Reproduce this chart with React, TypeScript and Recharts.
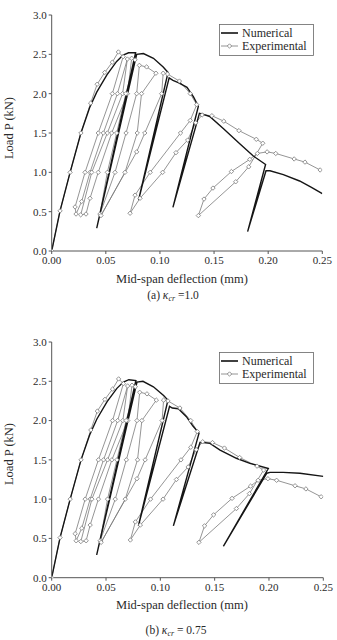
import React from 'react';
import { LineChart, Line, XAxis, YAxis, Legend } from 'recharts';

type Pair = [number, number];

// ---- data (deflection mm, load kN) ----
const xTicks = [0, 0.05, 0.1, 0.15, 0.2, 0.25];
const yTicks = [0, 0.5, 1, 1.5, 2, 2.5, 3];

const experimental: Pair[] = [
  [0, 0], [0.0077, 0.51], [0.017, 1.0], [0.027, 1.5], [0.036, 1.88], [0.042, 2.12], [0.049, 2.27], [0.056, 2.4], [0.0616, 2.53],
  [0.066, 2.47],
  [0.056, 2.0], [0.043, 1.5], [0.0308, 1.0], [0.0216, 0.56], [0.0225, 0.47],
  [0.0277, 0.63], [0.0354, 1.0], [0.0477, 1.5], [0.0607, 2.0], [0.0699, 2.44],
  [0.0655, 2.0], [0.0514, 1.5], [0.037, 1.0], [0.0268, 0.46],
  [0.0317, 0.47], [0.0354, 0.67], [0.043, 1.0], [0.0554, 1.5], [0.07, 2.0], [0.0739, 2.45],
  [0.077, 2.43],
  [0.0685, 2.0], [0.06, 1.5], [0.0514, 1.0], [0.0446, 0.47],
  [0.0585, 1.0], [0.0687, 1.5], [0.0785, 2.0], [0.081, 2.36],
  [0.0877, 2.34], [0.0963, 2.26],
  [0.083, 2.0], [0.079, 1.5], [0.0677, 1.0], [0.0455, 0.45],
  [0.0785, 1.26], [0.086, 1.5], [0.1016, 2.0], [0.103, 2.26], [0.107, 2.25],
  [0.118, 2.16], [0.128, 2.0], [0.134, 1.86],
  [0.128, 1.66], [0.119, 1.5], [0.091, 1.0], [0.077, 0.71], [0.0724, 0.48],
  [0.0816, 0.67], [0.1025, 1.0], [0.1148, 1.25], [0.1256, 1.41], [0.133, 1.63], [0.139, 1.73],
  [0.148, 1.72], [0.159, 1.65], [0.173, 1.53], [0.189, 1.42], [0.195, 1.37],
  [0.182, 1.07], [0.17, 0.88], [0.1355, 0.45],
  [0.1407, 0.66], [0.149, 0.8], [0.166, 1.01], [0.183, 1.165], [0.19, 1.24], [0.199, 1.26],
  [0.207, 1.24], [0.224, 1.17], [0.234, 1.13], [0.248, 1.03],
];

const numericalA: Pair[] = [
  [0, 0], [0.0077, 0.51], [0.017, 1.0], [0.027, 1.5], [0.035, 1.82], [0.0416, 2.02], [0.051, 2.24], [0.06, 2.41], [0.066, 2.49], [0.071, 2.52], [0.0775, 2.52],
  [0.0416, 0.29], [0.0785, 2.5],
  [0.0847, 2.51], [0.094, 2.45], [0.103, 2.34], [0.1075, 2.27],
  [0.0803, 0.65], [0.1085, 2.2],
  [0.112, 2.17], [0.117, 2.14], [0.125, 2.08], [0.131, 1.96], [0.1355, 1.84],
  [0.112, 0.555], [0.1365, 1.75],
  [0.1395, 1.74], [0.146, 1.71], [0.159, 1.55], [0.174, 1.36], [0.186, 1.21], [0.1976, 1.1],
  [0.181, 0.246], [0.198, 1.02],
  [0.2017, 1.02], [0.214, 0.97], [0.229, 0.89], [0.24, 0.81], [0.25, 0.73],
];

const numericalB: Pair[] = [
  [0, 0], [0.0077, 0.51], [0.017, 1.0], [0.027, 1.5], [0.035, 1.82], [0.0416, 2.02], [0.051, 2.24], [0.06, 2.41], [0.066, 2.49], [0.071, 2.52], [0.0775, 2.51],
  [0.0414, 0.29], [0.0785, 2.49],
  [0.084, 2.5], [0.0936, 2.43], [0.103, 2.32], [0.107, 2.26],
  [0.0798, 0.66], [0.1085, 2.18],
  [0.111, 2.16], [0.1166, 2.15], [0.124, 2.05], [0.13, 1.93], [0.1356, 1.84],
  [0.112, 0.66], [0.1365, 1.72],
  [0.1396, 1.72], [0.1457, 1.71], [0.155, 1.625], [0.17, 1.52], [0.1825, 1.455], [0.1994, 1.39],
  [0.158, 0.4], [0.198, 1.33],
  [0.201, 1.34], [0.213, 1.34], [0.2285, 1.33], [0.25, 1.29],
];

const toRows = (a: Pair[]) => a.map(([x, y]) => ({ x, y }));

const FONT = '"Liberation Serif", "DejaVu Serif", serif';
const AXIS = '#555';
const TXT = '#2a2a2a';
const EXP = '#7a7a7a';

const Diamond = (props: any) => {
  const { cx, cy, index } = props;
  if (cx == null || cy == null) return <g key={`e${index}`} />;
  const r = 2.2;
  return (
    <path
      key={`d${index}`}
      d={`M${cx},${cy - r}L${cx + r},${cy}L${cx},${cy + r}L${cx - r},${cy}Z`}
      fill="#fff"
      stroke={EXP}
      strokeWidth={0.8}
    />
  );
};

const LegendBox = () => (
  <svg width={95} height={32} style={{ display: 'block' }}>
    <rect x={0.5} y={0.5} width={94} height={31} fill="#fff" stroke="#666" strokeWidth={0.8} />
    <line x1={2} y1={9} x2={19} y2={9} stroke="#111" strokeWidth={1.6} />
    <text x={23} y={12.5} fontFamily={FONT} fontSize={12} fill={TXT}>Numerical</text>
    <line x1={2} y1={22} x2={19} y2={22} stroke={EXP} strokeWidth={0.8} />
    <path d="M10.5,19.8L12.7,22L10.5,24.2L8.3,22Z" fill="#fff" stroke={EXP} strokeWidth={0.8} />
    <text x={23} y={25.8} fontFamily={FONT} fontSize={12} fill={TXT}>Experimental</text>
  </svg>
);

type PanelProps = { numerical: Pair[]; plotTop: number; plotBottom: number; right: number; legendTop: number };

const Panel = ({ numerical, plotTop, plotBottom, right, legendTop }: PanelProps) => {
  const H = 320;
  const xAxisH = 20;
  return (
    <LineChart
      width={337}
      height={H}
      margin={{ top: plotTop, right, bottom: H - plotBottom - xAxisH, left: 0 }}
    >
      <XAxis
        dataKey="x"
        type="number"
        domain={[0, 0.25]}
        ticks={xTicks}
        tickFormatter={(v: number) => v.toFixed(2)}
        height={xAxisH}
        tickSize={3}
        tickMargin={2}
        stroke={AXIS}
        tick={{ fill: TXT, fontSize: 11, fontFamily: FONT }}
        allowDataOverflow
      />
      <XAxis xAxisId="top" orientation="top" type="number" domain={[0, 0.25]} height={0} tick={false} tickLine={false} stroke={AXIS} />
      <YAxis
        dataKey="y"
        type="number"
        domain={[0, 3]}
        ticks={yTicks}
        tickFormatter={(v: number) => v.toFixed(1)}
        width={51.7}
        tickSize={3}
        tickMargin={2}
        stroke={AXIS}
        tick={{ fill: TXT, fontSize: 11, fontFamily: FONT }}
        allowDataOverflow
      />
      <YAxis yAxisId="right" orientation="right" type="number" domain={[0, 3]} width={0} tick={false} tickLine={false} stroke={AXIS} />
      <Legend
        layout="horizontal"
        verticalAlign="middle"
        align="center"
        wrapperStyle={{ position: 'absolute', left: 218.5, top: legendTop, width: 95, height: 32 }}
        content={() => <LegendBox />}
      />
      <Line
        name="Experimental"
        data={toRows(experimental)}
        dataKey="y"
        type="linear"
        stroke={EXP}
        strokeWidth={0.8}
        dot={Diamond}
        activeDot={false}
        isAnimationActive={false}
      />
      <Line
        name="Numerical"
        data={toRows(numerical)}
        dataKey="y"
        type="linear"
        stroke="#151515"
        strokeWidth={1.4}
        dot={false}
        activeDot={false}
        isAnimationActive={false}
      />
    </LineChart>
  );
};

export default function App() {
  return (
    <div style={{ position: 'absolute', left: 0, top: 0, width: 337, height: 640, background: '#fff' }}>
      <div style={{ position: 'absolute', left: 0, top: 0 }}>
        <Panel numerical={numericalA} plotTop={15} plotBottom={251} right={14.7} legendTop={24} />
      </div>
      <div style={{ position: 'absolute', left: 0, top: 320 }}>
        <Panel numerical={numericalB} plotTop={22} plotBottom={257.7} right={13.7} legendTop={32} />
      </div>
      <svg width={337} height={640} style={{ position: 'absolute', left: 0, top: 0, pointerEvents: 'none' }}>
        <g fontFamily={FONT} fill={TXT}>
          <text transform="translate(9,128) rotate(-90)" textAnchor="middle" dominantBaseline="central" fontSize={12.5}>Load P (kN)</text>
          <text transform="translate(9,454) rotate(-90)" textAnchor="middle" dominantBaseline="central" fontSize={12.5}>Load P (kN)</text>
          <text x={182} y={283} textAnchor="middle" fontSize={12.5}>Mid-span deflection (mm)</text>
          <text x={182} y={609} textAnchor="middle" fontSize={12.5}>Mid-span deflection (mm)</text>
          <text x={173} y={299} textAnchor="middle" fontSize={11.5}>
            (a) <tspan fontStyle="italic">κ</tspan>
            <tspan fontStyle="italic" fontSize={8} dy={2}>cr</tspan>
            <tspan dy={-2}> =1.0</tspan>
          </text>
          <text x={176} y={634} textAnchor="middle" fontSize={11.5}>
            (b) <tspan fontStyle="italic">κ</tspan>
            <tspan fontStyle="italic" fontSize={8} dy={2}>cr</tspan>
            <tspan dy={-2}> = 0.75</tspan>
          </text>
        </g>
      </svg>
    </div>
  );
}
